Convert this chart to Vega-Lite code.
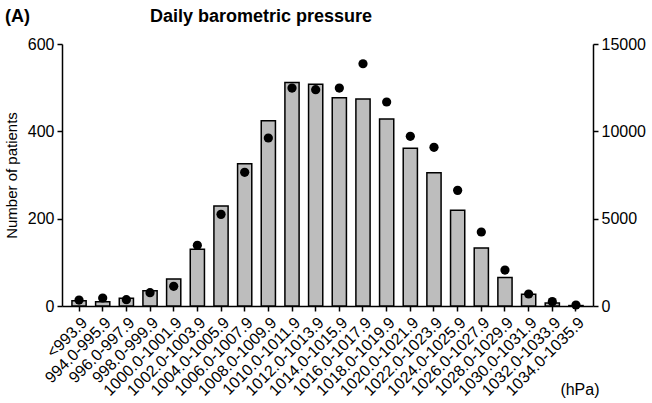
{
  "$schema": "https://vega.github.io/schema/vega-lite/v6.json",
  "width": 531,
  "height": 262,
  "autosize": "none",
  "padding": {"left": 62, "top": 44, "right": 59, "bottom": 97},
  "config": {
    "view": {"stroke": null},
    "font": "Liberation Sans",
    "axis": {
      "grid": false,
      "domainColor": "black",
      "domainWidth": 1.5,
      "tickColor": "black",
      "tickWidth": 1.5,
      "tickSize": 5,
      "labelColor": "black",
      "labelFont": "Liberation Sans",
      "labelFontSize": 16,
      "titleFont": "Liberation Sans",
      "titleFontSize": 15,
      "titleFontWeight": "normal",
      "titleColor": "black",
      "labelPadding": 3
    }
  },
  "title": {
    "text": "(A)\u00a0\u00a0\u00a0\u00a0\u00a0\u00a0\u00a0\u00a0\u00a0\u00a0\u00a0\u00a0\u00a0\u00a0\u00a0\u00a0\u00a0\u00a0\u00a0\u00a0\u00a0\u00a0\u00a0\u00a0Daily barometric pressure",
    "anchor": "start",
    "frame": "group",
    "dx": -57,
    "fontSize": 18,
    "fontWeight": "bold",
    "font": "Liberation Sans",
    "color": "black",
    "offset": 10
  },
  "data": {
    "values": [
      {"range": "<993.9", "patients": 12, "count": 340},
      {"range": "994.0-995.9", "patients": 10, "count": 458},
      {"range": "996.0-997.9", "patients": 18, "count": 360},
      {"range": "998.0-999.9", "patients": 35, "count": 763},
      {"range": "1000.0-1001.9", "patients": 62, "count": 1126},
      {"range": "1002.0-1003.9", "patients": 130, "count": 3472},
      {"range": "1004.0-1005.9", "patients": 229, "count": 5246},
      {"range": "1006.0-1007.9", "patients": 326, "count": 7652},
      {"range": "1008.0-1009.9", "patients": 424, "count": 9618},
      {"range": "1010.0-1011.9", "patients": 512, "count": 12480},
      {"range": "1012.0-1013.9", "patients": 508, "count": 12385},
      {"range": "1014.0-1015.9", "patients": 477, "count": 12480},
      {"range": "1016.0-1017.9", "patients": 474, "count": 13870},
      {"range": "1018.0-1019.9", "patients": 428, "count": 11680},
      {"range": "1020.0-1021.9", "patients": 361, "count": 9713},
      {"range": "1022.0-1023.9", "patients": 305, "count": 9083},
      {"range": "1024.0-1025.9", "patients": 219, "count": 6620},
      {"range": "1026.0-1027.9", "patients": 133, "count": 4236},
      {"range": "1028.0-1029.9", "patients": 65, "count": 2060},
      {"range": "1030.0-1031.9", "patients": 27, "count": 687},
      {"range": "1032.0-1033.9", "patients": 7, "count": 250},
      {"range": "1034.0-1035.9", "patients": 1, "count": 57}
    ]
  },
  "encoding": {
    "x": {
      "field": "range",
      "type": "ordinal",
      "sort": null,
      "scale": {"paddingInner": 0.4, "paddingOuter": 0.42},
      "axis": {
        "labelAngle": -45,
        "labelFontSize": 16,
        "labelPadding": 3,
        "title": "(hPa)",
        "titleFontSize": 16,
        "titleAngle": 0,
        "titleAlign": "right",
        "titleBaseline": "alphabetic",
        "titleX": 537,
        "titleY": 88
      }
    }
  },
  "layer": [
    {
      "mark": {"type": "bar", "fill": "#bdbdbd", "stroke": "black", "strokeWidth": 1.5},
      "encoding": {
        "y": {
          "field": "patients",
          "type": "quantitative",
          "scale": {"domain": [0, 600], "nice": false},
          "axis": {"orient": "left", "title": "Number of patients", "values": [0, 200, 400, 600], "format": "d", "titlePadding": 8}
        }
      }
    },
    {
      "mark": {"type": "point", "filled": true, "color": "black", "size": 85, "opacity": 1},
      "encoding": {
        "y": {
          "field": "count",
          "type": "quantitative",
          "scale": {"domain": [0, 15000], "nice": false},
          "axis": {"orient": "right", "title": null, "values": [0, 5000, 10000, 15000], "format": "d"}
        }
      }
    }
  ],
  "resolve": {"scale": {"y": "independent"}}
}
